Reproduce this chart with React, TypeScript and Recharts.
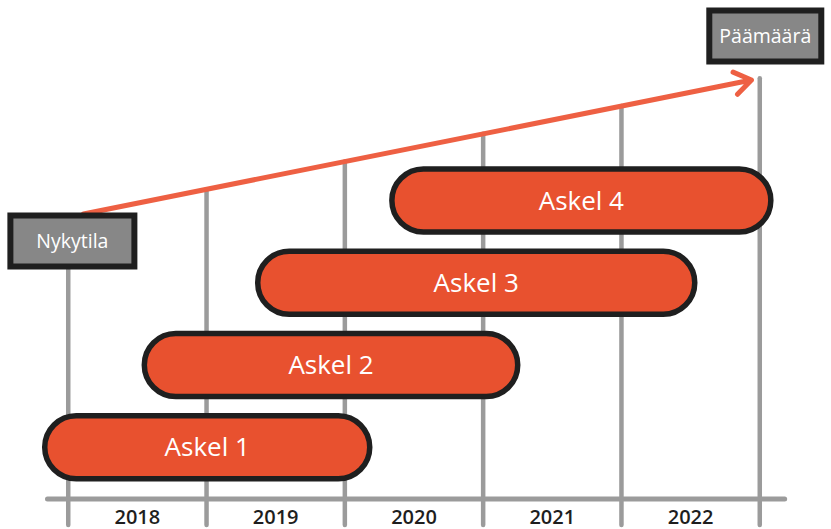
import React from 'react';
import { ComposedChart, Bar, XAxis, YAxis, ReferenceLine, ReferenceDot, LabelList } from 'recharts';

// roadmap steps, start/end as fractional years
const steps = ['Askel 1', 'Askel 2', 'Askel 3', 'Askel 4'];
const stepStart = [2017.83, 2018.55, 2019.37, 2020.34];
const stepEnd = [2020.18, 2021.25, 2022.53, 2023.08];

const years = [2018, 2019, 2020, 2021, 2022];
const yearBounds = [2018, 2019, 2020, 2021, 2022, 2023];

// progress arrow from current state to goal (year, level)
const pathYears = [2018.11, 2022.94];
const pathLevels = [57, 83.8];

const markerLabels = ['Nykytila', 'Päämäärä'];
const markerYears = [2018.03, 2023.04];
const markerLevels = [51.6, 92.6];

const rows = steps.map((name, i) => ({ name, span: [stepStart[i], stepEnd[i]] }));

const levelAt = (yr: number) =>
    pathLevels[0] + ((yr - pathYears[0]) * (pathLevels[1] - pathLevels[0])) / (pathYears[1] - pathYears[0]);

const FONT = '"Open Sans", sans-serif';
const GRAY = '#9b9b9b';
const INK = '#1f1f1f';

const Pill = (p: any) => {
    const { x, y, width, height } = p;
    const r = height / 2;
    const d = `M${x + r},${y} H${x + width - r} A${r},${r} 0 0 1 ${x + width - r},${y + height} H${x + r} A${r},${r} 0 0 1 ${x + r},${y} Z`;
    return <path d={d} fill="#e8512f" stroke={INK} strokeWidth={5.5} />;
};

const Arrow = (p: any) => {
    const { x1, y1, x2, y2 } = p;
    const a = Math.atan2(y2 - y1, x2 - x1);
    const len = 20;
    const ax1 = x2 - len * Math.cos(a - 0.6);
    const ay1 = y2 - len * Math.sin(a - 0.6);
    const ax2 = x2 - len * Math.cos(a + 0.6);
    const ay2 = y2 - len * Math.sin(a + 0.6);
    return (
        <path
            d={`M${x1},${y1} L${x2},${y2} M${ax1},${ay1} L${x2},${y2} L${ax2},${ay2}`}
            fill="none"
            stroke="#ee6043"
            strokeWidth={5}
            strokeLinecap="round"
            strokeLinejoin="round"
        />
    );
};

const boxWidth: Record<string, number> = { Nykytila: 124, 'Päämäärä': 112 };

const StateBox = (label: string) => (p: any) => {
    const { cx, cy } = p;
    const w = boxWidth[label];
    const h = 51;
    return (
        <g>
            <rect x={cx - w / 2} y={cy - h / 2} width={w} height={h} fill="#878787" stroke={INK} strokeWidth={6} />
            <text x={cx} y={cy + 7} textAnchor="middle" fill="#fff" fontSize={19.5} fontWeight={500} fontFamily={FONT}>
                {label}
            </text>
        </g>
    );
};

const YearTick = (p: any) => (
    <text x={p.x} y={p.y + 25} textAnchor="middle" fill="#1e1e1e" fontSize={20} fontWeight={600} fontFamily={FONT}>
        {Math.floor(p.payload.value)}
    </text>
);

export default function App() {
    return (
        <div style={{ position: 'absolute', left: 0, top: 0, background: '#fff' }}>
            <ComposedChart
                width={831}
                height={529}
                data={rows}
                layout="vertical"
                margin={{ top: 9, right: 9, left: 6, bottom: 0 }}
                style={{ fontFamily: FONT }}
            >
                <XAxis
                    type="number"
                    domain={[2017.55, 2023.45]}
                    allowDataOverflow
                    ticks={years.map((y) => y + 0.5)}
                    axisLine={false}
                    tickLine={false}
                    tickSize={0}
                    tickMargin={0}
                    height={30}
                    tick={YearTick}
                    interval={0}
                />
                <YAxis yAxisId="rows" type="category" dataKey="name" hide reversed padding={{ top: 150, bottom: 11 }} />
                <YAxis
                    yAxisId="lvl"
                    dataKey="level"
                    type="number"
                    scale="linear"
                    domain={[0, 98]}
                    hide
                    reversed
                    allowDataOverflow
                />

                {yearBounds.map((yr) => (
                    <ReferenceLine
                        key={yr}
                        yAxisId="lvl"
                        ifOverflow="visible"
                        segment={[{ x: yr, y: levelAt(yr) }, { x: yr, y: -5.2 }]}
                        stroke={GRAY}
                        strokeWidth={4.5}
                        strokeLinecap="round"
                        zIndex={-50}
                    />
                ))}
                <ReferenceLine
                    yAxisId="lvl"
                    ifOverflow="visible"
                    segment={[{ x: 2017.85, y: 0 }, { x: 2023.18, y: 0 }]}
                    stroke={GRAY}
                    strokeWidth={5}
                    strokeLinecap="round"
                    zIndex={-50}
                />

                <Bar yAxisId="rows" dataKey="span" barSize={63} shape={Pill} isAnimationActive={false}>
                    <LabelList dataKey="name" position="center" fill="#fff" fontSize={26} fontWeight={500} fontFamily={FONT} />
                </Bar>

                <ReferenceLine
                    yAxisId="lvl"
                    ifOverflow="visible"
                    segment={[{ x: pathYears[0], y: pathLevels[0] }, { x: pathYears[1], y: pathLevels[1] }]}
                    shape={Arrow}
                />
                {markerLabels.map((m, i) => (
                    <ReferenceDot
                        key={m}
                        yAxisId="lvl"
                        x={markerYears[i]}
                        y={markerLevels[i]}
                        ifOverflow="visible"
                        shape={StateBox(m)}
                    />
                ))}
            </ComposedChart>
        </div>
    );
}
